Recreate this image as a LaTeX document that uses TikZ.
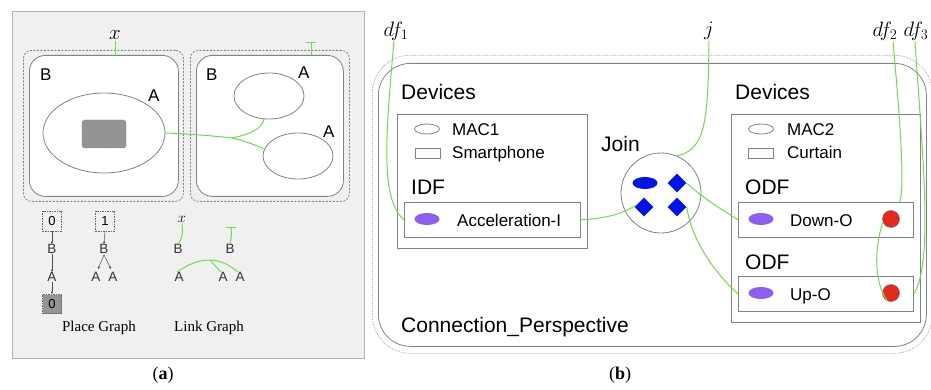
\documentclass[tikz,border=0pt]{standalone}
\usepackage{fontspec}
\setmainfont{Liberation Serif}
\setsansfont{Liberation Sans}
\usetikzlibrary{shapes.geometric,arrows.meta}
\definecolor{lgreen}{RGB}{110,220,80}
\definecolor{lgray}{RGB}{130,130,130}
\definecolor{bgA}{RGB}{240,240,240}
\definecolor{bdA}{RGB}{180,180,180}
\definecolor{purp}{RGB}{140,95,240}
\definecolor{jblue}{RGB}{0,20,230}
\definecolor{dred}{RGB}{230,40,30}
\begin{document}
\begin{tikzpicture}[x=1pt,y=-1pt,
  gline/.style={draw=lgreen,line width=1pt},
  rbox/.style={draw=lgray,line width=0.8pt,anchor=north west,inner sep=0pt},
  dbox/.style={draw=lgray,dash pattern=on 2pt off 1.5pt,line width=0.8pt,anchor=north west,inner sep=0pt},
  bigsf/.style={font=\sffamily\fontsize{21}{24}\selectfont,inner sep=0pt,anchor=base west},
  smsf/.style={font=\sffamily\fontsize{17}{20}\selectfont,inner sep=0pt,anchor=base west},
  alab/.style={font=\sffamily\fontsize{17}{20}\selectfont,inner sep=0pt,anchor=base west},
  tlab/.style={font=\sffamily\fontsize{13.5}{16}\selectfont,inner sep=0pt,text=black!80},
  serlab/.style={font=\fontsize{15}{18}\selectfont,inner sep=0pt},
  mlab/.style={font=\fontsize{20}{23}\selectfont,inner sep=1pt},
  ell/.style={ellipse,draw=lgray,line width=0.8pt,inner sep=0pt},
  smallbox/.style={draw=lgray,line width=0.7pt,inner sep=0pt,minimum width=25,minimum height=10},
  purpell/.style={ellipse,fill=purp,inner sep=0pt,minimum width=25,minimum height=12},
  reddot/.style={circle,fill=dred,draw=black!60,line width=0.4pt,inner sep=0pt,minimum size=17},
  jdia/.style={diamond,aspect=1,fill=jblue,inner sep=0pt,minimum width=19,minimum height=19},
  tarrow/.style={-{Latex[length=2.5pt,width=2.5pt]},draw=black!70,line width=0.5pt},
  numbox/.style={draw=black!60,dash pattern=on 1.5pt off 1pt,line width=0.7pt,inner sep=0pt,minimum width=19,minimum height=20,font=\sffamily\fontsize{13}{15}\selectfont}
]
\useasboundingbox (0,0) rectangle (931,390);
% ---------------- panel (a) ----------------
\node[draw=bdA,fill=bgA,line width=1pt,anchor=north west,minimum width=352,minimum height=347,inner sep=0pt] (panelA) at (12,11) {};
\node[dbox,rounded corners=8,minimum width=160,minimum height=151] (ldash) at (23,50) {};
\node[rbox,rounded corners=16,fill=white,minimum width=149,minimum height=141] (lsolid) at (29,55) {};
\node[dbox,rounded corners=8,minimum width=159,minimum height=151] (rdash) at (190,50) {};
\node[rbox,rounded corners=16,fill=white,minimum width=147,minimum height=141] (rsolid) at (196,55) {};
\node[alab] (lB) at (40,81) {B};
\node[ell,minimum width=122,minimum height=80] (bigE) at (104,133) {};
\node[alab] (lA) at (148,102) {A};
\node[draw=black!60,dash pattern=on 1.5pt off 1pt,fill=black!42,rounded corners=3,minimum width=44,minimum height=28,inner sep=0pt] (site) at (104,134) {};
\node[alab] (rB) at (206,81) {B};
\node[ell,minimum width=70,minimum height=46] (topE) at (269,96) {};
\node[alab] (rA1) at (298,79) {A};
\node[ell,minimum width=70,minimum height=46] (lowE) at (298,156) {};
\node[alab] (rA2) at (323,138) {A};
\node[mlab] (xl) at (115,35) {$x$};
\draw[gline] (xl.south) -- (xl.south |- lsolid.north);
\coordinate (tA) at (311,43);
\draw[gline] ([xshift=-5]tA) -- ([xshift=5]tA);
\draw[gline] (tA) -- (tA |- rsolid.north);
\coordinate (br) at (232,138);
\draw[gline] (bigE.east) .. controls (190,134) and (215,136) .. (br);
\draw[gline] (br) .. controls (252,134) and (262,128) .. (topE.258);
\draw[gline] (br) .. controls (245,141) and (255,145) .. (lowE.168);
% place graph
\node[numbox] (n0) at (52,221) {0};
\node[tlab] (pB1) at (52,249) {B};
\node[tlab] (pA1) at (52,277) {A};
\node[numbox,fill=black!42,minimum height=19] (n00) at (52,304) {0};
\draw[tarrow] (n0.south) -- (pB1.north);
\draw[tarrow] (pB1.south) -- (pA1.north);
\draw[tarrow] (pA1.south) -- (n00.north);
\node[numbox] (n1) at (105,221) {1};
\node[tlab] (pB2) at (104,249) {B};
\node[tlab] (pA2) at (96,277) {A};
\node[tlab] (pA3) at (113,277) {A};
\draw[tarrow] (n1.south) -- (pB2.north);
\draw[tarrow] ([yshift=-1]pB2.south) -- ([xshift=2,yshift=3]pA2.north);
\draw[tarrow] ([yshift=-1]pB2.south) -- ([xshift=-2,yshift=3]pA3.north);
\node[serlab] (plab) at (99,328) {Place Graph};
% link graph
\node[font=\fontsize{15}{17}\selectfont,inner sep=1pt] (x2) at (182,219) {$x$};
\node[tlab] (lB1) at (178,249) {B};
\draw[gline] (x2.south) .. controls (183,236) and (182,238) .. (lB1.north);
\coordinate (tB) at (231,227);
\draw[gline] ([xshift=-5]tB) -- ([xshift=5]tB);
\node[tlab] (lB2) at (230,249) {B};
\draw[gline] (tB) .. controls (232,236) and (231,238) .. (lB2.north);
\node[tlab] (lA1) at (179,277) {A};
\node[tlab] (lA2) at (223,277) {A};
\node[tlab] (lA3) at (240,277) {A};
\coordinate (pk) at (210,260);
\draw[gline] ([xshift=-2]lA1.north) .. controls (190,263) and (200,260) .. (pk) .. controls (220,260) and (230,265) .. ([xshift=-2]lA3.north);
\draw[gline] (pk) -- ([xshift=-2]lA2.north);
\node[serlab] (llab) at (209,328) {Link Graph};
\node[font=\fontsize{18}{21}\selectfont,inner sep=0pt] (capA) at (163,375) {(\textbf{a})};
% ---------------- panel (b) ----------------
\node[draw=lgray,densely dotted,line width=0.6pt,rounded corners=38,anchor=north west,minimum width=560,minimum height=298,inner sep=0pt] (odot) at (372,55) {};
\node[rbox,rounded corners=32,minimum width=548,minimum height=283] (osolid) at (378,63) {};
\node[bigsf] (dev1) at (401,100) {Devices};
\node[rbox,minimum width=190,minimum height=134] (devbox1) at (397,114) {};
\node[ell,minimum width=25,minimum height=10] (mac1e) at (427,129) {};
\node[smsf] (mac1) at (452,136) {MAC1};
\node[smallbox] (smr) at (427.5,153) {};
\node[smsf] (smart) at (452,159) {Smartphone};
\node[bigsf] (idf) at (411,195) {IDF};
\node[rbox,minimum width=176,minimum height=35] (idfbox) at (404,202) {};
\node[purpell] (pe1) at (427,219) {};
\node[smsf] (acc) at (457,226) {Acceleration-I};
\node[bigsf] (joinl) at (601,152) {Join};
\node[circle,draw=lgray,line width=0.8pt,minimum size=80,inner sep=0pt] (join) at (661,193) {};
\node[ellipse,fill=jblue,inner sep=0pt,minimum width=25,minimum height=12] (je) at (645,183) {};
\node[jdia] (d1) at (677,183) {};
\node[jdia] (d2) at (644,207) {};
\node[jdia] (d3) at (677,207) {};
\node[bigsf] (dev2) at (735,100) {Devices};
\node[rbox,minimum width=189,minimum height=208] (devbox2) at (731,114) {};
\node[ell,minimum width=25,minimum height=10] (mac2e) at (761,129) {};
\node[smsf] (mac2) at (787,136) {MAC2};
\node[smallbox] (cur) at (761,153) {};
\node[smsf] (curt) at (787,159) {Curtain};
\node[bigsf] (odf1) at (745,195) {ODF};
\node[rbox,minimum width=175,minimum height=35] (downbox) at (738,202) {};
\node[purpell] (pe2) at (761,219) {};
\node[smsf] (down) at (790,226) {Down-O};
\node[reddot] (r1) at (891,219) {};
\node[bigsf] (odf2) at (745,269) {ODF};
\node[rbox,minimum width=175,minimum height=35] (upbox) at (738,276) {};
\node[purpell] (pe3) at (761,293) {};
\node[smsf] (up) at (790,300) {Up-O};
\node[reddot] (r2) at (891,293) {};
\node[bigsf] (conn) at (401,332) {Connection\_Perspective};
% labels
\node[mlab] (df1) at (396,31) {$df_1$};
\node[mlab] (jl) at (709,31) {$j$};
\node[mlab] (df2) at (885,31) {$df_2$};
\node[mlab] (df3) at (916,31) {$df_3$};
% green links
\draw[gline] ([xshift=-2]df1.south) .. controls (384,150) and (382,200) .. (idfbox.west);
\draw[gline] (idfbox.east) .. controls (608,218) and (622,214) .. ([xshift=2,yshift=2]d2.west);
\draw[gline] (jl.south) .. controls (708,120) and (706,150) .. (join.67);
\draw[gline] (d1.east) .. controls (705,200) and (720,208) .. (downbox.west);
\draw[gline] (d3.east) .. controls (692,242) and (716,274) .. (upbox.west);
\draw[gline] ([xshift=8]df2.south) .. controls (900,120) and (905,185) .. ([xshift=-14]downbox.north east);
\draw[gline] (r1.200) .. controls (874,250) and (874,282) .. (r2.245);
\draw[gline] ([xshift=-1]df3.south) .. controls (922,150) and (934,262) .. (upbox.east);
\node[font=\fontsize{18}{21}\selectfont,inner sep=0pt] (capB) at (620,375) {(\textbf{b})};
\end{tikzpicture}
\end{document}
